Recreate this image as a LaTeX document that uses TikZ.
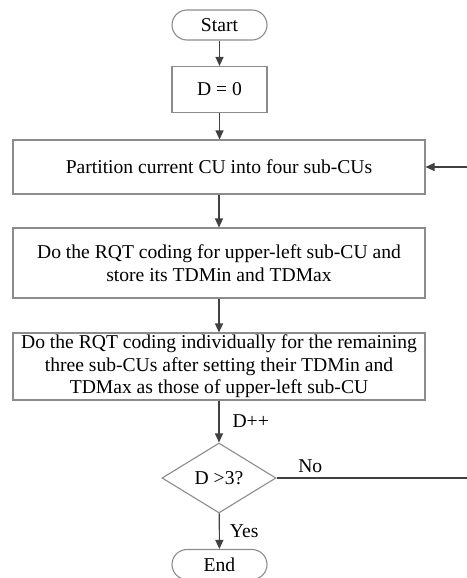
\documentclass[tikz,border=0pt]{standalone}
\usepackage{fontspec}
\setmainfont{Liberation Serif}
\usetikzlibrary{shapes.geometric,arrows.meta,positioning}
\definecolor{boxgray}{HTML}{8C8C8C}
\definecolor{linegray}{HTML}{404040}
\tikzset{
  base/.style={draw=boxgray, line width=1.1pt, align=center, inner sep=0pt, font=\fontsize{19.6}{22.5}\selectfont},
  terminal/.style={base, rectangle, rounded corners=15pt, minimum width=95pt, minimum height=30pt},
  small box/.style={base, rectangle, minimum width=95pt, minimum height=46pt},
  wide box/.style={base, rectangle, minimum width=412pt, minimum height=#1},
  decision/.style={base, diamond, aspect=1.63, minimum width=114pt, minimum height=70pt},
  flow/.style={draw=linegray, line width=1.1pt, -{Triangle[width=8pt,length=9pt]}},
  plain/.style={draw=linegray, line width=1.1pt},
  lbl/.style={font=\fontsize{19.6}{22}\selectfont, inner sep=0pt}
}
\begin{document}
\begin{tikzpicture}[x=1pt,y=1pt]
\useasboundingbox (0,0) rectangle (466,-578);
% nodes
\node[terminal] (start) at (219.5,-25) {Start};
\node[small box] (init) at (219.5,-89.5) {D = 0};
\node[wide box=54pt] (part) at (219,-167) {Partition current CU into four sub-CUs};
\node[wide box=70pt] (first) at (219,-263) {Do the RQT coding for upper-left sub-CU and\\store its TDMin and TDMax};
\node[wide box=67pt] (rest) at (219,-366.5) {Do the RQT coding individually for the remaining\\three sub-CUs after setting their TDMin and\\TDMax as those of upper-left sub-CU};
\node[decision] (check) at (219,-478) {D >3?};
\node[terminal] (end) at (219.5,-564.5) {End};
% loop corner, beyond the right border
\coordinate (loopdown) at (475,-478);
\coordinate (loopup) at (475,-167);
% connectors
\draw[flow] (start) -- (init);
\draw[flow] (init) -- (init |- part.north);
\draw[flow] (part.south -| check) -- (check |- first.north);
\draw[flow] (first.south -| check) -- (check |- rest.north);
\draw[flow] (rest.south -| check) -- node[lbl, anchor=west, xshift=13pt] {D++} (check);
\draw[flow] (check) -- node[lbl, anchor=west, xshift=10pt] {Yes} (end);
\draw[plain] (check.east) -- node[lbl, anchor=south, pos=0.17, yshift=5pt] {No} (loopdown) -- (loopup);
\draw[flow] (loopup) -- (part.east);
\end{tikzpicture}
\end{document}
